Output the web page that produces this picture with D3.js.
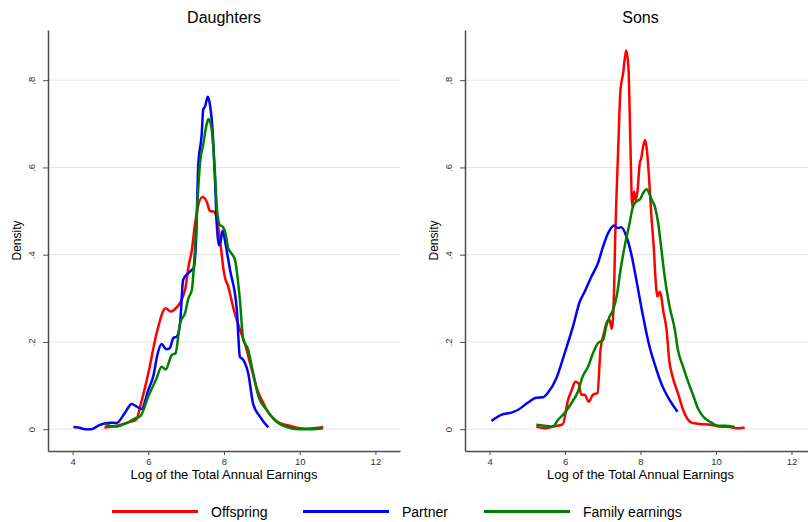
<!DOCTYPE html>
<html lang="en">
<head>
  <meta charset="UTF-8">
  <title>Earnings densities</title>
  <script src="https://d3js.org/d3.v7.min.js"></script>
  <style>
    body {margin: 0; padding: 0; background: #fff; font-family: "Liberation Sans", Arial, sans-serif;}
    svg {display: block;}
  </style>
</head>
<body>
  <div id="chart"></div>
  <script>
    // kernel densities: [log earnings, density]
    const daughtersOffspring = [
      [4.84,0.004],[5.16,0.008],[5.45,0.015],[5.69,0.023],[5.78,0.05],[6.0,0.128],[6.22,0.22],
      [6.46,0.277],[6.59,0.27],[6.70,0.275],[6.97,0.319],[7.07,0.377],[7.15,0.41],[7.23,0.468],
      [7.43,0.532],[7.54,0.522],[7.63,0.50],[7.73,0.499],[7.85,0.461],[7.94,0.40],[7.98,0.37],
      [8.03,0.346],[8.10,0.33],[8.25,0.277],[8.42,0.228],[8.55,0.197],[8.69,0.151],[8.91,0.083],
      [9.04,0.06],[9.13,0.044],[9.30,0.025],[9.48,0.014],[9.74,0.008],[10.0,0.002],[10.19,0.001],
      [10.62,0.005]
    ];
    const daughtersPartner = [
      [4.02,0.005],[4.15,0.004],[4.33,0.0],[4.50,0.0],[4.72,0.01],[4.99,0.015],[5.16,0.014],
      [5.38,0.037],[5.56,0.058],[5.69,0.052],[5.82,0.046],[6.0,0.09],[6.13,0.121],[6.25,0.174],
      [6.35,0.195],[6.48,0.183],[6.57,0.186],[6.66,0.209],[6.75,0.212],[6.84,0.243],[6.92,0.342],
      [7.06,0.358],[7.15,0.365],[7.20,0.37],[7.27,0.45],[7.32,0.606],[7.41,0.675],[7.45,0.732],
      [7.50,0.74],[7.57,0.762],[7.63,0.743],[7.70,0.682],[7.76,0.575],[7.81,0.468],[7.86,0.422],
      [7.91,0.43],[7.96,0.455],[8.03,0.43],[8.09,0.40],[8.16,0.365],[8.34,0.273],[8.42,0.166],
      [8.51,0.159],[8.64,0.128],[8.77,0.058],[8.95,0.029],[9.17,0.004]
    ];
    const daughtersFamily = [
      [4.84,0.012],[5.12,0.006],[5.43,0.014],[5.65,0.025],[5.78,0.029],[6.0,0.075],[6.22,0.117],
      [6.35,0.143],[6.46,0.137],[6.62,0.17],[6.72,0.174],[6.84,0.243],[6.97,0.266],[7.06,0.30],
      [7.15,0.319],[7.23,0.41],[7.28,0.491],[7.37,0.613],[7.45,0.652],[7.54,0.698],[7.59,0.711],
      [7.67,0.69],[7.76,0.59],[7.82,0.499],[7.89,0.468],[7.97,0.464],[8.04,0.449],[8.11,0.415],
      [8.18,0.405],[8.29,0.388],[8.42,0.296],[8.51,0.205],[8.64,0.182],[8.77,0.128],[8.91,0.075],
      [9.13,0.044],[9.39,0.017],[9.66,0.005],[10.0,0.0],[10.3,0.0],[10.62,0.002]
    ];
    const sonsOffspring = [
      [5.24,0.006],[5.46,0.002],[5.68,0.006],[5.94,0.011],[6.08,0.067],[6.18,0.09],[6.27,0.109],
      [6.36,0.105],[6.43,0.079],[6.52,0.079],[6.63,0.063],[6.74,0.079],[6.86,0.083],[6.94,0.182],
      [7.03,0.22],[7.12,0.247],[7.18,0.25],[7.24,0.23],[7.30,0.32],[7.33,0.44],[7.37,0.55],
      [7.40,0.62],[7.47,0.778],[7.54,0.816],[7.58,0.847],[7.62,0.868],[7.68,0.831],[7.73,0.663],
      [7.78,0.51],[7.83,0.545],[7.87,0.526],[7.92,0.545],[7.98,0.61],[8.02,0.621],[8.07,0.648],
      [8.12,0.663],[8.17,0.64],[8.23,0.571],[8.29,0.487],[8.35,0.419],[8.40,0.342],[8.45,0.304],
      [8.51,0.315],[8.55,0.304],[8.60,0.273],[8.69,0.228],[8.76,0.159],[8.86,0.117],[8.99,0.083],
      [9.13,0.044],[9.35,0.015],[9.57,0.012],[9.84,0.01],[10.1,0.006],[10.37,0.005],[10.54,0.002],
      [10.76,0.004]
    ];
    const sonsPartner = [
      [4.05,0.019],[4.31,0.033],[4.58,0.038],[4.75,0.044],[5.02,0.061],[5.24,0.072],[5.41,0.073],
      [5.55,0.084],[5.77,0.117],[5.99,0.174],[6.21,0.235],[6.39,0.292],[6.52,0.315],[6.70,0.35],
      [6.87,0.38],[7.01,0.419],[7.14,0.449],[7.30,0.467],[7.40,0.461],[7.49,0.463],[7.63,0.441],
      [7.76,0.40],[7.89,0.342],[8.07,0.258],[8.24,0.189],[8.38,0.148],[8.55,0.105],[8.77,0.067],
      [8.98,0.04]
    ];
    const sonsFamily = [
      [5.24,0.01],[5.46,0.008],[5.68,0.006],[5.81,0.021],[5.99,0.037],[6.17,0.06],[6.34,0.086],
      [6.47,0.121],[6.61,0.143],[6.74,0.174],[6.87,0.197],[7.01,0.205],[7.10,0.239],[7.18,0.258],
      [7.27,0.273],[7.38,0.31],[7.47,0.365],[7.58,0.419],[7.71,0.472],[7.80,0.51],[7.89,0.522],
      [7.98,0.526],[8.07,0.541],[8.16,0.55],[8.23,0.541],[8.29,0.527],[8.38,0.51],[8.47,0.472],
      [8.55,0.415],[8.64,0.35],[8.77,0.281],[8.91,0.228],[8.99,0.182],[9.13,0.143],[9.26,0.109],
      [9.39,0.079],[9.52,0.048],[9.66,0.029],[9.84,0.017],[10.06,0.008],[10.23,0.008],[10.5,0.005]
    ];

    const seriesNames = ["Offspring", "Partner", "Family earnings"];
    const seriesColors = ["#ff0000", "#0000ff", "#008000"];
    const panelTitles = ["Daughters", "Sons"];
    const xTicks = [4, 6, 8, 10, 12];
    const yTicks = [0, 0.2, 0.4, 0.6, 0.8];
    const yTickLabels = ["0", ".2", ".4", ".6", ".8"];

    const panels = [
      {title: panelTitles[0], series: [daughtersOffspring, daughtersPartner, daughtersFamily], left: 48, right: 400},
      {title: panelTitles[1], series: [sonsOffspring, sonsPartner, sonsFamily], left: 465, right: 816}
    ];

    const W = 808, H = 522;
    const plotTop = 30, plotBottom = 451;

    const svg = d3.select("#chart").append("svg")
      .attr("width", W).attr("height", H);

    panels.forEach(p => {
      const x = d3.scaleLinear().domain([3.35, 12.65]).range([p.left, p.right]);
      const y = d3.scaleLinear().domain([-0.05, 0.915]).range([plotBottom, plotTop]);
      const g = svg.append("g");

      // grid
      g.selectAll(".grid").data(yTicks).join("line")
        .attr("x1", p.left).attr("x2", p.right)
        .attr("y1", d => y(d)).attr("y2", d => y(d))
        .attr("stroke", "#e6e6e6").attr("stroke-width", 1);

      // axes
      const xAxis = g.append("g").attr("transform", `translate(0,${plotBottom})`)
        .call(d3.axisBottom(x).tickValues(xTicks).tickSize(4).tickSizeOuter(0));
      const yAxis = g.append("g").attr("transform", `translate(${p.left},0)`)
        .call(d3.axisLeft(y).tickValues(yTicks).tickSize(5).tickSizeOuter(0)
          .tickFormat((d, i) => yTickLabels[i]));
      [xAxis, yAxis].forEach(a => {
        a.select(".domain").attr("stroke", "#4d4d4d").attr("stroke-width", 1.5);
        a.selectAll(".tick line").attr("stroke", "#4d4d4d");
        a.selectAll("text").attr("fill", "#333")
          .style("font-family", "'Liberation Sans', Arial, sans-serif").style("font-size", "9.5px");
      });
      xAxis.selectAll("text").attr("dy", "0.95em").attr("y", 5);
      yAxis.selectAll("text")
        .attr("x", 0).attr("y", 0)
        .attr("text-anchor", "middle")
        .attr("transform", "translate(-16,0) rotate(-90)")
        .attr("dy", "0.35em");

      // titles
      const cx = x(8);
      g.append("text").attr("x", cx).attr("y", 23).attr("text-anchor", "middle")
        .style("font-size", "16px").text(p.title);
      g.append("text").attr("x", cx).attr("y", 479).attr("text-anchor", "middle")
        .style("font-size", "13px").text("Log of the Total Annual Earnings");
      g.append("text")
        .attr("transform", `translate(${p.left - 31},${(plotTop + plotBottom) / 2}) rotate(-90)`)
        .attr("text-anchor", "middle").attr("dy", "0.35em")
        .style("font-size", "12px").text("Density");

      // curves
      const line = d3.line().x(d => x(d[0])).y(d => y(d[1])).curve(d3.curveMonotoneX);
      p.series.forEach((s, i) => {
        g.append("path").datum(s)
          .attr("d", line)
          .attr("fill", "none")
          .attr("stroke", seriesColors[i])
          .attr("stroke-width", 2.5)
          .attr("stroke-linejoin", "round");
      });
    });

    // legend
    const legendX = [112, 303, 484];
    const legend = svg.append("g");
    seriesNames.forEach((name, i) => {
      legend.append("line")
        .attr("x1", legendX[i]).attr("x2", legendX[i] + 86)
        .attr("y1", 511.5).attr("y2", 511.5)
        .attr("stroke", seriesColors[i]).attr("stroke-width", 3);
      legend.append("text")
        .attr("x", legendX[i] + 99).attr("y", 516.5)
        .style("font-size", "14px").text(name);
    });
  </script>
</body>
</html>
